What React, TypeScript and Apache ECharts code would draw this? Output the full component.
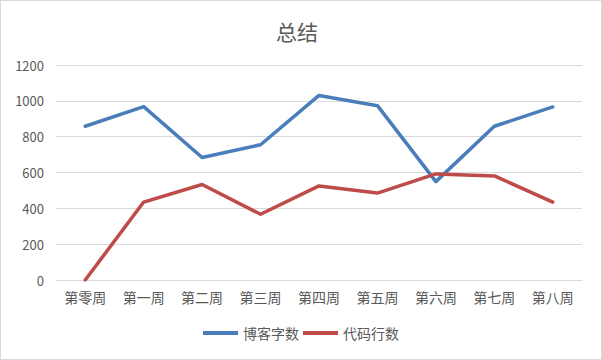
import React, { useEffect, useRef } from "react";
import * as echarts from "echarts";

const title = "总结";
const categories = ["第零周", "第一周", "第二周", "第三周", "第四周", "第五周", "第六周", "第七周", "第八周"];
const blogWords = [858, 968, 684, 755, 1030, 973, 549, 858, 966];
const codeLines = [0, 435, 533, 367, 525, 485, 592, 581, 435];
const seriesNames = ["博客字数", "代码行数"];

export default function App() {
  const ref = useRef<HTMLDivElement>(null);
  useEffect(() => {
    document.body.style.margin = "0";
    if (!ref.current) return;
    const chart = echarts.init(ref.current, undefined, { renderer: "svg" });
    const font = "'Noto Sans CJK SC', 'Microsoft YaHei', sans-serif";
    chart.setOption({
      animation: false,
      backgroundColor: "#ffffff",
      title: {
        text: title,
        left: 270,
        top: 14,
        textStyle: { color: "#595959", fontSize: 21, fontWeight: "normal", fontFamily: font },
      },
      grid: { left: 55, right: 19, top: 64, bottom: 79, containLabel: false },
      legend: {
        bottom: 14,
        left: "center",
        icon: "rect",
        itemWidth: 35,
        itemHeight: 4,
        itemGap: 4,
        data: seriesNames,
        textStyle: { color: "#595959", fontSize: 14, fontFamily: font },
      },
      xAxis: {
        type: "category",
        data: categories,
        boundaryGap: true,
        axisLine: { show: true, lineStyle: { color: "#d9d9d9", width: 1 } },
        axisTick: { show: false },
        axisLabel: { color: "#595959", fontSize: 14, margin: 10, fontFamily: font, interval: 0 },
      },
      yAxis: {
        type: "value",
        min: 0,
        max: 1200,
        interval: 200,
        axisLine: { show: false },
        axisTick: { show: false },
        axisLabel: {
          color: "#595959",
          fontSize: 13,
          margin: 12,
          fontFamily: font,
          formatter: (v: number) => String(v),
        },
        splitLine: { lineStyle: { color: "#d9d9d9", width: 1 } },
      },
      series: [
        {
          name: seriesNames[0],
          type: "line",
          data: blogWords,
          symbol: "none",
          color: "#4A7EBB",
          lineStyle: { width: 3.5, color: "#4A7EBB", cap: "round", join: "round" },
        },
        {
          name: seriesNames[1],
          type: "line",
          data: codeLines,
          symbol: "none",
          color: "#BE4B48",
          lineStyle: { width: 3.5, color: "#BE4B48", cap: "round", join: "round" },
        },
      ],
    });
    return () => chart.dispose();
  }, []);
  return (
    <div
      style={{
        width: 602,
        height: 360,
        boxSizing: "border-box",
        border: "1px solid #d9d9d9",
        background: "#fff",
      }}
    >
      <div ref={ref} style={{ width: 600, height: 358 }} />
    </div>
  );
}
